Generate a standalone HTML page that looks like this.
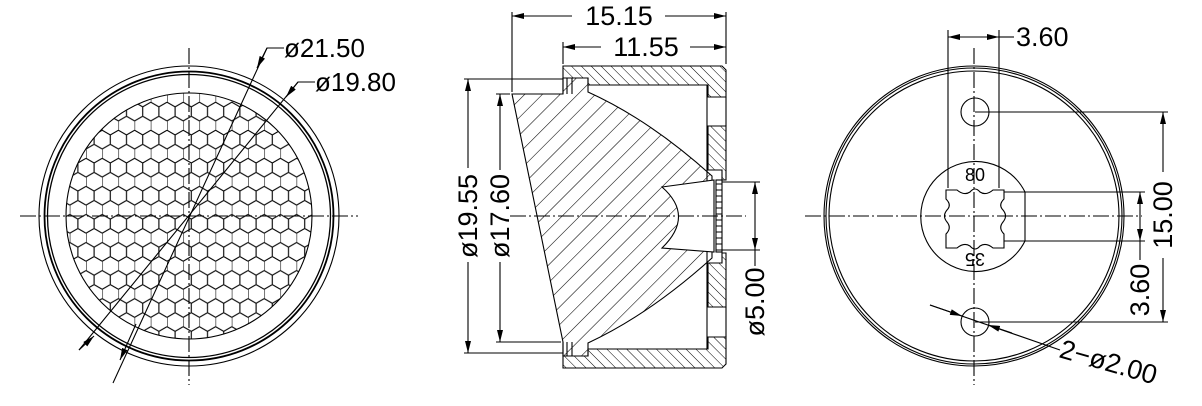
<!DOCTYPE html>
<html><head><meta charset="utf-8"><style>
html,body{margin:0;padding:0;background:#fff}
svg{display:block}
text{font-family:"Liberation Sans",sans-serif;font-size:25px;fill:#000}
</style></head><body>
<svg width="1202" height="406" viewBox="0 0 1202 406" xmlns="http://www.w3.org/2000/svg">
<defs>
<marker id="a" viewBox="0 0 12 6" refX="12" refY="3" markerWidth="12" markerHeight="6" markerUnits="userSpaceOnUse" orient="auto-start-reverse"><path d="M0,0 L12,3 L0,6 Z" fill="#000"/></marker>
<pattern id="hex" patternUnits="userSpaceOnUse" x="5" y="4" width="16.2" height="28.06">
<path d="M0,4.68 L8.1,0 L16.2,4.68 M0,4.68 V14.03 L8.1,18.71 L16.2,14.03 M8.1,18.71 V28.06" stroke="#000" stroke-width="1.1" fill="none"/>
</pattern>
<pattern id="hl" patternUnits="userSpaceOnUse" width="12.5" height="12.5" patternTransform="rotate(45)">
<line x1="0" y1="0" x2="0" y2="12.5" stroke="#000" stroke-width="1.1"/></pattern>
<pattern id="hh" patternUnits="userSpaceOnUse" width="7" height="7" patternTransform="rotate(-45)">
<line x1="0" y1="0" x2="0" y2="7" stroke="#000" stroke-width="1"/></pattern>
<clipPath id="cc"><circle cx="189" cy="216" r="123"/></clipPath>
</defs>
<g fill="none" stroke="#000" stroke-width="1.1">
<!-- LEFT VIEW -->
<circle cx="189" cy="216" r="150"/>
<circle cx="189" cy="216" r="144.5" stroke-width="1.8"/>
<circle cx="189" cy="216" r="141.5" stroke-width="1.3"/>
<rect x="60" y="90" width="260" height="260" fill="url(#hex)" stroke="none" clip-path="url(#cc)"/>
<circle cx="189" cy="216" r="123"/>
<path d="M189,48 V385 M20,216 H358" stroke-dasharray="16,3,2,3"/>
<path d="M284,48 H267 L113,383"/>
<path d="M315,82 H298 L79,350"/>
<path d="M267,48 L257,68" marker-end="url(#a)"/>
<path d="M136,324 L120,360" marker-end="url(#a)"/>
<path d="M298,82 L286,97" marker-end="url(#a)"/>
<path d="M79,350 L94,336" marker-end="url(#a)"/>

<!-- MIDDLE VIEW -->
<path d="M563,66 H722 L726,70 V97 H708 V85 H588 V78 H563 Z" fill="url(#hh)"/>
<path d="M563,368 H722 L726,364 V337 H708 V349 H588 V356 H563 Z" fill="url(#hh)"/>
<path d="M708,126 H726 V180 H722 V170 H708 Z" fill="url(#hh)"/>
<path d="M708,307 H726 V253 H722 V263 H708 Z" fill="url(#hh)"/>
<path d="M707,85 V349 M707,97 H726 M707,126 H726 M707,307 H726 M707,337 H726 M726,97 V126 M726,307 V337"/>
<path d="M512,94 H563 V78 H588 V92 Q650,120 712,176 V258 Q650,314 588,343 V356 H563 V342 Z" fill="url(#hl)"/>
<path d="M563,78 V94 M567,78 V94 M572,78 V94 M563,342 V356 M567,342 V356 M572,342 V356"/>
<path d="M662,187 L714,180 V252 L662,248 Q695,216 662,187 Z" fill="#fff"/>
<rect x="716" y="180" width="6" height="72" fill="#fff"/>
<path d="M716,184 H722 M716,190 H722 M716,196 H722 M716,202 H722 M716,208 H722 M716,214 H722 M716,220 H722 M716,226 H722 M716,232 H722 M716,238 H722 M716,244 H722 M716,250 H722"/>
<path d="M510,216 H746" stroke-dasharray="16,3,2,3"/>
<path d="M512,92 V12 M726,64 V12 M563,64 V42"/>
<path d="M572,16 H512" marker-end="url(#a)"/><path d="M665,16 H726" marker-end="url(#a)"/>
<path d="M601,47 H563" marker-end="url(#a)"/><path d="M690,47 H726" marker-end="url(#a)"/>
<path d="M563,79 H464 M563,353 H464 M510,94 H496 M561,342 H496"/>
<path d="M468,168 V79" marker-end="url(#a)"/><path d="M468,262 V353" marker-end="url(#a)"/>
<path d="M500,170 V94" marker-end="url(#a)"/><path d="M500,262 V342" marker-end="url(#a)"/>
<path d="M722,182 H760 M722,250 H760"/>
<path d="M755,216 V182" marker-end="url(#a)"/><path d="M755,216 V250" marker-end="url(#a)"/>
<path d="M755,250 V266"/>

<!-- RIGHT VIEW -->
<circle cx="974" cy="216" r="150"/>
<circle cx="974" cy="216" r="148"/>
<circle cx="974" cy="216" r="145"/>
<circle cx="975" cy="112" r="14"/>
<circle cx="975" cy="322" r="14"/>
<path d="M1025,192 A55,55 0 1 0 1025,241 Z" fill="#fff"/>
<path d="M946,190 H957 Q964,196 970,192 Q975,186 980,192 Q986,196 993,190 H1004 V199 Q998,205 1003,210 Q1008,216 1003,222 Q998,228 1004,234 V248 H993 Q986,242 980,246 Q975,252 970,246 Q964,242 957,248 H946 V234 Q952,228 947,222 Q942,216 947,210 Q952,205 946,199 Z" fill="#fff"/>
<path d="M974,48 V385 M805,216 H1142" stroke-dasharray="16,3,2,3"/>
<path d="M948,30 V188 M999,30 V188"/>
<path d="M973,37 H948" marker-end="url(#a)"/><path d="M973,37 H999" marker-end="url(#a)"/><path d="M999,37 H1014"/>
<path d="M975,112 H1168 M975,322 H1168"/>
<path d="M1163,172 V112" marker-end="url(#a)"/><path d="M1163,258 V322" marker-end="url(#a)"/>
<path d="M1004,192 H1145 M1004,241 H1145"/>
<path d="M1140,216 V192" marker-end="url(#a)"/><path d="M1140,216 V241" marker-end="url(#a)"/><path d="M1140,241 V260"/>
<path d="M930,305 L1060,350"/>
<path d="M930,305 L962,316" marker-end="url(#a)"/>
<path d="M1012,333 L988,325" marker-end="url(#a)"/>
</g>
<text x="284" y="57" style="font-size:26px">ø21.50</text>
<text x="315" y="91" style="font-size:26px">ø19.80</text>
<text x="619" y="25" text-anchor="middle" style="font-size:27px">15.15</text>
<text x="646" y="56" text-anchor="middle" style="font-size:27px">11.55</text>
<text transform="translate(477,216) rotate(-90)" text-anchor="middle" style="font-size:27px">ø19.55</text>
<text transform="translate(509,216) rotate(-90)" text-anchor="middle" style="font-size:27px">ø17.60</text>
<text transform="translate(764,302) rotate(-90)" text-anchor="middle" style="font-size:27px">ø5.00</text>
<text x="1016" y="46" style="font-size:27px">3.60</text>
<text x="975" y="181" text-anchor="middle" style="font-size:18px">80</text>
<text transform="translate(975,253) rotate(180)" text-anchor="middle" style="font-size:18px">35</text>
<text transform="translate(1172,215) rotate(-90)" text-anchor="middle" style="font-size:27px">15.00</text>
<text transform="translate(1149,290) rotate(-90)" text-anchor="middle" style="font-size:27px">3.60</text>
<text transform="translate(1058,357) rotate(16)" style="font-size:27px">2−ø2.00</text>
</svg>
</body></html>
